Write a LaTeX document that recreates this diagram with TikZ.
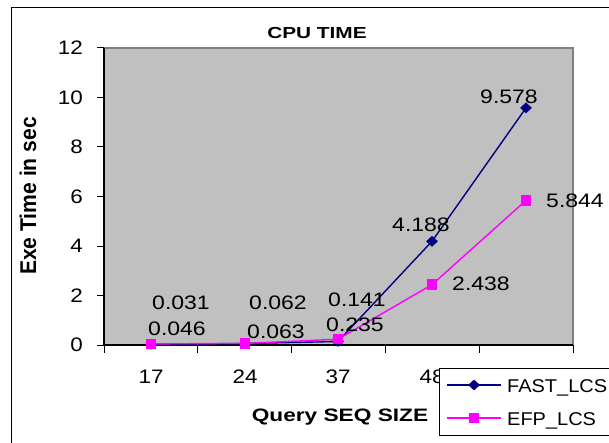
\documentclass[tikz,border=0pt]{standalone}
\usepackage{fontspec}
\usepackage{graphicx}
\setmainfont{Liberation Sans}
\usetikzlibrary{shapes.geometric}
\definecolor{plotgray}{HTML}{C0C0C0}
\definecolor{framegray}{HTML}{808080}
\definecolor{fastc}{HTML}{000080}
\definecolor{efpc}{HTML}{FF00FF}
\tikzset{
  lbl/.style={font=\fontsize{19.5}{20}\selectfont, inner sep=0pt, anchor=center},
  ticklbl/.style={font=\fontsize{19.5}{20}\selectfont, inner sep=0pt},
  legtext/.style={font=\fontsize{18.5}{20}\selectfont, inner sep=0pt, anchor=base west},
  fastline/.style={draw=fastc, line width=1.4pt},
  efpline/.style={draw=efpc, line width=1.4pt},
  fastmark/.style={diamond, fill=fastc, draw=none, minimum width=12pt, minimum height=11pt, inner sep=0pt},
  efpmark/.style={rectangle, fill=efpc, draw=none, minimum size=10.5pt, inner sep=0pt},
  axisline/.style={draw=black, line width=1.3pt},
  tickline/.style={draw=black, line width=1pt},
}
\newcommand{\hs}[2]{\scalebox{#1}[1]{#2}}
\begin{document}
\begin{tikzpicture}[x=1pt,y=-1pt]
\useasboundingbox (0,0) rectangle (609,443);
% outer frame
\draw[black, line width=1pt] (11,450) -- (11,7.5) -- (620,7.5);
% plot area
\fill[plotgray] (104,48) rectangle (573,345);
\draw[framegray, line width=2pt] (104,48) -- (573,48) -- (573,345);
\draw[axisline] (104,48) -- (104,345) -- (573,345);
% y ticks and labels
\foreach \v/\lab in {0/0,1/2,2/4,3/6,4/8,5/10,6/12}{
  \draw[tickline] (97,{345-49.5*\v}) -- (104,{345-49.5*\v});
  \node[ticklbl, anchor=east] (y\v) at (83,{345-49.5*\v}) {\hs{1.15}{\lab}};
}
% x ticks
\foreach \k in {0,...,5}{
  \draw[tickline] ({104+93.8*\k},345) -- ({104+93.8*\k},353);
}
% x labels
\node[ticklbl] (x1) at (151,377) {\hs{1.15}{17}};
\node[ticklbl] (x2) at (245,377) {\hs{1.15}{24}};
\node[ticklbl] (x3) at (338,377) {\hs{1.15}{37}};
\node[ticklbl] (x4) at (432,377) {\hs{1.15}{48}};
% data coordinates
\coordinate (f1) at (151,344.2);
\coordinate (f2) at (245,343.5);
\coordinate (f3) at (338,341.5);
\coordinate (f4) at (432,241.3);
\coordinate (f5) at (526,107.9);
\coordinate (e1) at (151,343.9);
\coordinate (e2) at (245,343.4);
\coordinate (e3) at (338,339.2);
\coordinate (e4) at (432,284.7);
\coordinate (e5) at (526,200.4);
\draw[fastline] (f1) -- (f2) -- (f3) -- (f4) -- (f5);
\foreach \i in {1,...,5}{ \node[fastmark] (fm\i) at (f\i) {}; }
\draw[efpline] (e1) -- (e2) -- (e3) -- (e4) -- (e5);
\foreach \i in {1,...,5}{ \node[efpmark] (em\i) at (e\i) {}; }
% data labels
\node[lbl] (l1) at (181,303) {\hs{1.18}{0.031}};
\node[lbl] (l2) at (177,329) {\hs{1.18}{0.046}};
\node[lbl] (l3) at (278,303) {\hs{1.18}{0.062}};
\node[lbl] (l4) at (276,332) {\hs{1.18}{0.063}};
\node[lbl] (l5) at (357,300) {\hs{1.18}{0.141}};
\node[lbl] (l6) at (355,325) {\hs{1.18}{0.235}};
\node[lbl] (l7) at (421,225) {\hs{1.18}{4.188}};
\node[lbl] (l8) at (481,284) {\hs{1.18}{2.438}};
\node[lbl] (l9) at (509,97) {\hs{1.18}{9.578}};
\node[lbl] (l10) at (575,201) {\hs{1.18}{5.844}};
% titles
\node[inner sep=0pt, font=\fontsize{16}{18}\selectfont\bfseries] (title) at (317,33) {\hs{1.3}{CPU TIME}};
\node[inner sep=0pt, font=\fontsize{18}{20}\selectfont\bfseries] (xt) at (340,417) {\hs{1.26}{Query SEQ SIZE}};
\node[inner sep=0pt, rotate=90, font=\fontsize{19}{20}\selectfont\bfseries] (yt) at (28,196) {\scalebox{1.11}[1.2]{Exe Time in sec}};
% legend
\draw[black, fill=white, line width=0.8pt] (439,368) rectangle (615,435);
\coordinate (la) at (447,385);
\coordinate (lb) at (501,385);
\coordinate (lc) at (447,418);
\coordinate (ld) at (501,418);
\draw[fastline] (la) -- (lb);
\node[fastmark] (lfm) at (474,385) {};
\draw[efpline] (lc) -- (ld);
\node[efpmark] (lem) at (474,418) {};
\node[legtext] (lt1) at (507,392) {\hs{1.08}{FAST\_LCS}};
\node[legtext] (lt2) at (507,425) {\hs{1.08}{EFP\_LCS}};
\end{tikzpicture}
\end{document}
